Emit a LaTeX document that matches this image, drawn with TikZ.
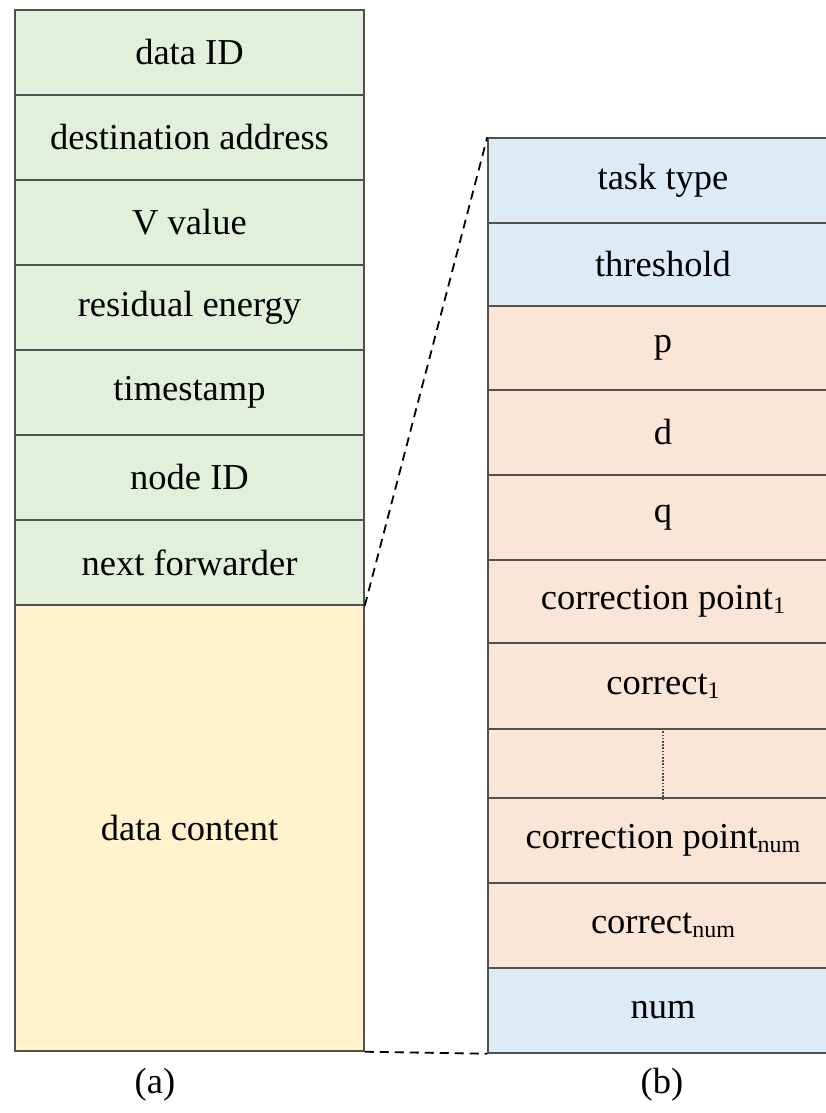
\documentclass[tikz,border=0pt]{standalone}
\usepackage{fontspec}
\setmainfont{Liberation Serif}
\definecolor{hdrgreen}{HTML}{E2EFDA}
\definecolor{bodyyellow}{HTML}{FFF2CC}
\definecolor{ctlblue}{HTML}{DDEBF7}
\definecolor{corrpeach}{HTML}{FBE5D6}
\definecolor{edge}{HTML}{505050}
\newcommand{\sub}[1]{\raisebox{-4pt}{\fontsize{24}{24}\selectfont #1}}
\begin{document}
\begin{tikzpicture}[x=1pt,y=-1pt,
  field/.style={draw=edge, line width=1.5pt, rectangle, inner sep=0pt,
    font=\fontsize{36.5}{40}\selectfont, text=black},
  lcol/.style={field, minimum width=349pt},
  rcol/.style={field, minimum width=350pt},
  zoomline/.style={line width=1.8pt, dash pattern=on 9pt off 6pt},
  caption/.style={font=\fontsize{36.5}{40}\selectfont}]
\useasboundingbox (0,0) rectangle (826,1113);
\clip (0,0) rectangle (826,1113);

% (a) packet header and payload
\node[lcol, fill=hdrgreen, minimum height=85pt] (l1) at (189.5,52.5) {data ID};
\node[lcol, fill=hdrgreen, minimum height=85pt] (l2) at (189.5,137.5) {destination address};
\node[lcol, fill=hdrgreen, minimum height=85pt] (l3) at (189.5,222.5) {V value};
\node[lcol, fill=hdrgreen, minimum height=85pt] (l4) at (189.5,307.5) {residual energy};
\node[lcol, fill=hdrgreen, minimum height=85pt] (l5) at (189.5,392.5) {timestamp};
\node[lcol, fill=hdrgreen, minimum height=85pt] (l6) at (189.5,477.5) {node ID};
\node[lcol, fill=hdrgreen, minimum height=85pt] (l7) at (189.5,562.5) {next forwarder};
\node[lcol, fill=bodyyellow, minimum height=446pt] (lc) at (189.5,828) {data content};

% (b) structure of the data content
\node[rcol, fill=ctlblue, minimum height=85pt] (r1) at (663,180.5) {task type};
\node[rcol, fill=ctlblue, minimum height=83pt] (r2) at (663,264.5) {threshold};
\node[rcol, fill=corrpeach, minimum height=84pt] (r3) at (663,348) {p};
\node[rcol, fill=corrpeach, minimum height=85pt] (r4) at (663,432.5) {d};
\node[rcol, fill=corrpeach, minimum height=85pt] (r5) at (663,517.5) {q};
\node[rcol, fill=corrpeach, minimum height=83pt] (r6) at (663,601.5) {correction point\sub{1}};
\node[rcol, fill=corrpeach, minimum height=86pt] (r7) at (663,686) {correct\sub{1}};
\node[rcol, fill=corrpeach, minimum height=69pt] (r8) at (663,763.5) {};
\node[rcol, fill=corrpeach, minimum height=85pt] (r9) at (663,840.5) {correction point\sub{num}};
\node[rcol, fill=corrpeach, minimum height=85pt] (r10) at (663,925.5) {correct\sub{num}};
\node[rcol, fill=ctlblue, minimum height=85pt] (r11) at (663,1010.5) {num};

% ellipsis between the repeated correction entries
\draw[edge, line width=1.8pt, dash pattern=on 1.6pt off 1.6pt] (r8.north) -- (r8.south);

% zoom guides from the payload to its breakdown
\draw[zoomline] (l7.south east) -- (r1.north west);
\draw[zoomline] (lc.south east) -- (r11.south west);

% sub-figure captions
\node[caption] (capa) at (155,1085) {(a)};
\node[caption] (capb) at (662,1085) {(b)};
\end{tikzpicture}
\end{document}
